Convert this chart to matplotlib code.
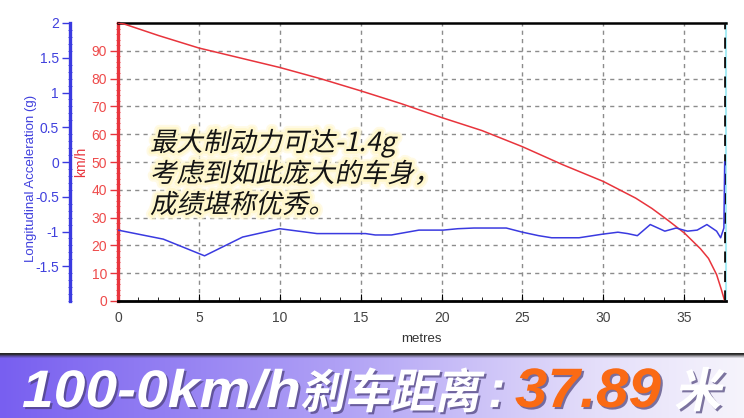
import numpy as np
import matplotlib
matplotlib.use("Agg")
import matplotlib.pyplot as plt
import matplotlib.patheffects as pe
from matplotlib.ticker import MultipleLocator
from matplotlib.transforms import Affine2D

# speed trace (km/h) against distance (m)
speed_dist = [0, 0.4, 2.5, 5, 7.5, 10, 12.5, 15, 17.5, 20, 22.5, 25, 27.5, 30,
              32, 33, 34, 35, 36, 36.5, 37, 37.3, 37.45, 37.5]
speed_kmh = [100, 99.6, 95.5, 91, 87.5, 84, 80, 75.6, 71, 66, 61.3, 55.5, 49, 43,
             37, 33.3, 29, 24.5, 18.8, 15.3, 9.5, 4, 1, 0]

# longitudinal acceleration (g) against distance (m)
acc_dist = [0, 2.8, 5.35, 7.7, 10.0, 12.3, 15.3, 15.9, 16.9, 18.6, 20.1, 21.0,
            22.0, 24.0, 25.0, 26.0, 26.8, 28.5, 29.9, 30.9, 31.5, 32.1, 32.9,
            33.8, 34.5, 35.2, 35.8, 36.4, 37.0, 37.25, 37.45, 37.5]
acc_g = [-0.98, -1.11, -1.35, -1.08, -0.96, -1.03, -1.03, -1.05, -1.05, -0.98,
         -0.98, -0.96, -0.95, -0.95, -1.01, -1.06, -1.09, -1.09, -1.04, -1.01,
         -1.03, -1.06, -0.90, -0.995, -0.95, -0.995, -0.98, -0.90, -0.995,
         -1.09, -0.95, 0.0]

x_ticks = [0, 5, 10, 15, 20, 25, 30, 35]
speed_ticks = [0, 10, 20, 30, 40, 50, 60, 70, 80, 90]
acc_ticks = [-1.5, -1, -0.5, 0, 0.5, 1, 1.5, 2]
acc_tick_labels = ["-1.5", "-1", "-0.5", "0", "0.5", "1", "1.5", "2"]

note_lines = ["最大制动力可达-1.4g", "考虑到如此庞大的车身，", "成绩堪称优秀。"]
banner_parts = ["100-0km/h", "刹车距离", ":", "37.89", "米"]

W, H = 744, 418
RED = "#e8343c"
BLUE = "#3a3ae0"
CJK = ["Noto Sans CJK SC", "DejaVu Sans"]


class Warp(pe.AbstractPathEffect):
    """Wrap another path effect, squeezing / slanting the glyph outlines."""

    def __init__(self, inner, sx=1.0, shear=0.0):
        super().__init__()
        self.inner = inner
        self.sx = sx
        self.shear = shear

    def draw_path(self, renderer, gc, tpath, affine, rgbFace=None):
        warp = Affine2D().scale(self.sx, 1).skew_deg(self.shear, 0)
        self.inner.draw_path(renderer, gc, tpath, warp + affine, rgbFace)


def fx(px):
    return px / W


def fy(py):
    return (H - py) / H


def draw_chart(fig):
    ax_w = 725.5 - 118
    ax = fig.add_axes([fx(118), fy(301), ax_w / W, (301 - 23) / H])
    ax.plot(speed_dist, speed_kmh, color=RED, lw=1.1, zorder=3)
    ax.set_xlim(0, 37.55)
    ax.set_ylim(0, 100)
    ax.set_xticks(x_ticks)
    ax.xaxis.set_minor_locator(MultipleLocator(1.25))
    ax.set_yticks(speed_ticks)
    ax.yaxis.set_minor_locator(MultipleLocator(2))
    ax.grid(True, which="major", color="#8c8c8c", ls=(0, (3, 3)), lw=1)

    ax.spines["left"].set_color(RED)
    ax.spines["left"].set_linewidth(2.4)
    ax.spines["bottom"].set_linewidth(2.0)
    ax.spines["top"].set_linewidth(1.8)
    ax.spines["right"].set_color("#a8ecf5")
    ax.spines["right"].set_linewidth(1.5)

    ax.tick_params(axis="y", which="major", direction="out", length=6, width=1,
                   color=RED, labelcolor="#ee4b4b", labelsize=10, pad=2)
    ax.tick_params(axis="y", which="minor", direction="inout", length=2.5,
                   width=0.6, color=RED)
    ax.tick_params(axis="x", which="major", direction="in", length=5,
                   labelcolor="#444444", labelsize=10, pad=7)
    ax.tick_params(axis="x", which="minor", direction="in", length=3)
    ax.set_xlabel("metres", fontsize=9.5, color="#333333", labelpad=6)
    ax.set_ylabel("km/h", fontsize=10, color=RED)
    ax.yaxis.set_label_coords((88 - 118) / ax_w, 0.5)

    # cursor at the stopping point
    ax.axvline(speed_dist[-1], color="#111111", lw=2, ls=(0, (4, 3)), zorder=4)

    ax2 = ax.twinx()
    ax2.plot(acc_dist, acc_g, color=BLUE, lw=1.1)
    ax2.set_ylim(-2, 2)
    ax2.yaxis.tick_left()
    ax2.yaxis.set_label_position("left")
    for side in ("right", "top", "bottom"):
        ax2.spines[side].set_visible(False)
    ax2.spines["left"].set_visible(True)
    # 48 px to the left of the speed axis (outward is in points)
    ax2.spines["left"].set_position(("outward", 48 * 72 / 100))
    ax2.spines["left"].set_color(BLUE)
    ax2.spines["left"].set_linewidth(2.4)
    ax2.set_yticks(acc_ticks)
    ax2.set_yticklabels(acc_tick_labels)
    ax2.yaxis.set_minor_locator(MultipleLocator(0.1))
    ax2.tick_params(axis="y", which="major", direction="out", length=6, width=1,
                    color=BLUE, labelcolor="#4040dd", labelsize=10, pad=2)
    ax2.tick_params(axis="y", which="minor", direction="inout", length=2.5,
                    width=0.6, color=BLUE)
    ax2.set_ylabel("Longitudinal Acceleration (g)", fontsize=9.5, color="#4040dd")
    ax2.yaxis.set_label_coords((37 - 118) / ax_w, 0.44)
    return ax


def draw_note(fig):
    glow = [Warp(pe.Stroke(linewidth=7, foreground="#fff8d4", alpha=0.6), shear=12),
            Warp(pe.Stroke(linewidth=4, foreground="#fff7cc"), shear=12),
            Warp(pe.Normal(), shear=12)]
    for line, base in zip(note_lines, [151, 182, 213]):
        fig.text(fx(150), fy(base), line, family=CJK, fontsize=19,
                 color="#141414", ha="left", va="baseline",
                 path_effects=glow, zorder=10)


def draw_banner(fig):
    bh = 68
    bax = fig.add_axes([0, 0, 1, bh / H])
    xs = np.linspace(0, 1, W)
    stops = [0, 0.45, 0.8, 1]
    cols = [[120, 175, 228, 246], [95, 160, 222, 244], [240, 245, 250, 252]]
    base = np.stack([np.interp(xs, stops, c) for c in cols], axis=-1) / 255
    img = np.repeat(base[None], bh, axis=0)
    img[:3] = 1.0
    for i, a in enumerate([1.0, 0.9, 0.6, 0.35, 0.15]):
        img[3 + i] = img[3 + i] * (1 - a) + 0.15 * a
    bax.imshow(img, aspect="auto", extent=[0, 1, 0, 1])
    bax.axis("off")

    shadow = pe.SimplePatchShadow(offset=(1.5, -1.5), shadow_rgbFace="#4a3f78",
                                  alpha=0.7)
    latin = ["Liberation Sans", "DejaVu Sans"]
    specs = [
        # text, left px, baseline px, size, family, colour, sx, shear
        (banner_parts[0], 22, 407, 38, latin, "white", 1.08, 0),
        (banner_parts[1], 300, 408, 34, CJK, "white", 0.95, 12),
        (banner_parts[2], 488, 407, 38, latin, "white", 1.0, 0),
        (banner_parts[3], 515, 407, 40, latin, "#fa6a14", 1.05, 0),
        (banner_parts[4], 674, 407, 34, CJK, "white", 1.0, 12),
    ]
    for text, x, y, size, fam, color, sx, shear in specs:
        style = "italic" if fam is latin else "normal"
        fig.text(fx(x), fy(y), text, family=fam, fontsize=size,
                 fontweight="bold", fontstyle=style, color=color,
                 ha="left", va="baseline", zorder=10,
                 path_effects=[Warp(shadow, sx, shear), Warp(pe.Normal(), sx, shear)])


def main():
    plt.rcParams["font.family"] = ["Liberation Sans", "DejaVu Sans"]
    plt.rcParams["axes.unicode_minus"] = False
    fig = plt.figure(figsize=(W / 100, H / 100), dpi=100)
    draw_chart(fig)
    draw_note(fig)
    draw_banner(fig)
    fig.savefig("out.png", dpi=100)
    plt.close(fig)


if __name__ == "__main__":
    main()
